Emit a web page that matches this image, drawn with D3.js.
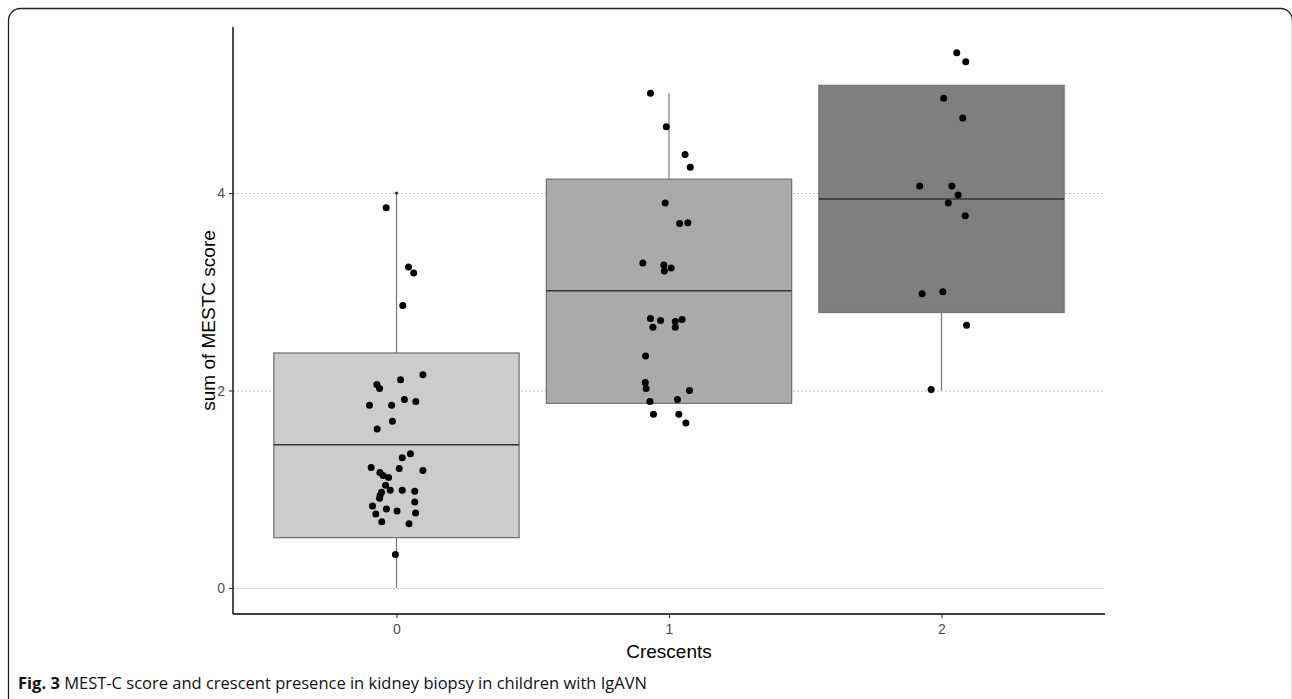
<!DOCTYPE html>
<html>
<head>
<meta charset="utf-8">
<script src="https://cdn.jsdelivr.net/npm/d3@7"></script>
<style>
  body { margin: 0; background: #fff; }
  svg { display: block; }
</style>
</head>
<body>
<div id="chart"></div>
<script>
// crescent groups on the x axis
var categories = ["0", "1", "2"];
var yTicks = [0, 2, 4];

// box statistics: [lower whisker, q1, median, q3, upper whisker]
var boxStats = [
    [0.00, 0.51, 1.45, 2.38, 4.00],
    [1.87, 1.87, 3.01, 4.14, 5.01],
    [2.00, 2.79, 3.94, 5.09, 5.09]
];

// jittered points: horizontal offset (in category units) and y value
var jit0 = [-0.038, 0.044, 0.063, 0.023, 0.097, 0.015, -0.072, -0.062, 0.029, 0.071,
            -0.099, -0.018, -0.015, -0.071, 0.051, 0.021, -0.093, 0.010, 0.097, -0.061,
            -0.049, -0.029, -0.040, -0.023, 0.021, 0.067, -0.055, -0.060, -0.062, 0.067,
            -0.088, -0.037, 0.002, -0.076, 0.070, -0.054, 0.046, -0.004];
var val0 = [3.85, 3.25, 3.19, 2.86, 2.16, 2.11, 2.06, 2.02, 1.91, 1.89,
            1.85, 1.85, 1.69, 1.61, 1.36, 1.32, 1.22, 1.21, 1.19, 1.17,
            1.14, 1.12, 1.04, 0.99, 0.99, 0.98, 0.97, 0.94, 0.91, 0.87,
            0.83, 0.80, 0.78, 0.75, 0.76, 0.67, 0.65, 0.34];

var jit1 = [-0.068, -0.010, 0.059, 0.078, -0.014, 0.039, 0.069, -0.096, -0.019, -0.017,
            0.008, -0.068, -0.031, -0.059, 0.023, 0.023, 0.048, -0.086, -0.087, -0.084,
            0.075, -0.070, 0.031, -0.057, 0.036, 0.062];
var val1 = [5.01, 4.67, 4.39, 4.26, 3.90, 3.69, 3.70, 3.29, 3.27, 3.21,
            3.24, 2.73, 2.71, 2.64, 2.70, 2.64, 2.72, 2.35, 2.08, 2.02,
            2.00, 1.89, 1.91, 1.76, 1.76, 1.67];

var jit2 = [0.056, 0.089, 0.008, 0.078, -0.080, 0.038, 0.061, 0.025, 0.087, -0.071,
            0.005, 0.092, -0.038];
var val2 = [5.42, 5.33, 4.96, 4.76, 4.07, 4.07, 3.98, 3.90, 3.77, 2.98,
            3.00, 2.66, 2.01];

var boxFills = ["#cccccc", "#aaaaaa", "#7f7f7f"];

function init() {
    var W = 1292, H = 699;
    var svg = d3.select("#chart").append("svg")
        .attr("width", W).attr("height", H)
        .style("font-family", "'Liberation Sans', Arial, sans-serif");

    // figure frame (only top/left/top-right corner visible)
    svg.append("rect")
        .attr("x", 8.5).attr("y", 8.5)
        .attr("width", 1284).attr("height", 720)
        .attr("rx", 12)
        .attr("fill", "none")
        .attr("stroke", "#222")
        .attr("stroke-width", 1.3);

    var left = 233, right = 1105, top = 27, bottom = 614;

    var x = d3.scalePoint()
        .domain(categories)
        .range([left, right])
        .padding(0.6);
    var step = x.step();

    var y = d3.scaleLinear()
        .domain([-0.263, 5.681])
        .range([bottom, top]);

    // dotted horizontal grid
    svg.append("g").selectAll("line")
        .data(yTicks).enter().append("line")
        .attr("x1", left).attr("x2", right)
        .attr("y1", function(d) { return y(d) + 0.5; })
        .attr("y2", function(d) { return y(d) + 0.5; })
        .attr("stroke", "#bdbdbd")
        .attr("stroke-width", 1)
        .attr("stroke-dasharray", "2,2");

    var boxW = 0.9 * step;
    var boxes = svg.append("g").selectAll("g")
        .data(boxStats).enter().append("g");

    // whiskers
    boxes.append("line")
        .attr("x1", function(d, i) { return x(categories[i]); })
        .attr("x2", function(d, i) { return x(categories[i]); })
        .attr("y1", function(d) { return y(d[0]); })
        .attr("y2", function(d) { return y(d[4]); })
        .attr("stroke", "#777")
        .attr("stroke-width", 1.2);

    boxes.append("rect")
        .attr("x", function(d, i) { return x(categories[i]) - boxW / 2; })
        .attr("width", boxW)
        .attr("y", function(d) { return y(d[3]); })
        .attr("height", function(d) { return y(d[1]) - y(d[3]); })
        .attr("fill", function(d, i) { return boxFills[i]; })
        .attr("stroke", "#777")
        .attr("stroke-width", 1.3);

    boxes.append("line")
        .attr("x1", function(d, i) { return x(categories[i]) - boxW / 2; })
        .attr("x2", function(d, i) { return x(categories[i]) + boxW / 2; })
        .attr("y1", function(d) { return y(d[2]); })
        .attr("y2", function(d) { return y(d[2]); })
        .attr("stroke", "#333")
        .attr("stroke-width", 1.5);

    // small dot at the top of the first whisker
    svg.append("circle")
        .attr("cx", x(categories[0]))
        .attr("cy", y(boxStats[0][4]))
        .attr("r", 1.6)
        .attr("fill", "#333");

    // jittered points
    var groups = [[jit0, val0], [jit1, val1], [jit2, val2]];
    groups.forEach(function(g, i) {
        var pts = g[1].map(function(v, k) { return { dx: g[0][k], v: v }; });
        svg.append("g").selectAll("circle")
            .data(pts).enter().append("circle")
            .attr("cx", function(d) { return x(categories[i]) + d.dx * step; })
            .attr("cy", function(d) { return y(d.v); })
            .attr("r", 3.5)
            .attr("fill", "#000");
    });

    // axes
    var xAxis = d3.axisBottom(x).tickSize(4).tickPadding(6);
    var yAxis = d3.axisLeft(y).tickValues(yTicks).tickFormat(d3.format("d"))
        .tickSize(4).tickPadding(4);

    var gx = svg.append("g")
        .attr("transform", "translate(0," + bottom + ")")
        .call(xAxis);
    gx.select(".domain").attr("d", "M" + left + ",0H" + right)
        .attr("stroke", "#000").attr("stroke-width", 1.4);

    var gy = svg.append("g")
        .attr("transform", "translate(" + left + ",0)")
        .call(yAxis);
    gy.select(".domain").attr("d", "M0," + top + "V" + bottom)
        .attr("stroke", "#000").attr("stroke-width", 1.4);

    [gx, gy].forEach(function(g) {
        g.attr("font-size", 14).attr("font-family", "'Liberation Sans', Arial, sans-serif");
        g.selectAll(".tick line").attr("stroke", "#333").attr("stroke-width", 1.1);
        g.selectAll(".tick text").attr("fill", "#4d4d4d");
    });

    // axis titles
    svg.append("text")
        .attr("x", x(categories[1]))
        .attr("y", 658)
        .attr("text-anchor", "middle")
        .style("font-size", "19px")
        .text("Crescents");

    svg.append("text")
        .attr("transform", "translate(215," + ((top + bottom) / 2) + ") rotate(-90)")
        .attr("text-anchor", "middle")
        .style("font-size", "19px")
        .text("sum of MESTC score");

    // caption
    var cap = svg.append("text")
        .attr("x", 18)
        .attr("y", 689)
        .style("font-family", "'Open Sans', 'Noto Sans', sans-serif")
        .style("font-size", "16.5px")
        .attr("fill", "#111");
    cap.append("tspan").style("font-weight", "bold").text("Fig. 3");
    cap.append("tspan").text(" MEST-C score and crescent presence in kidney biopsy in children with IgAVN");
}
window.onload = init;
</script>
</body>
</html>
